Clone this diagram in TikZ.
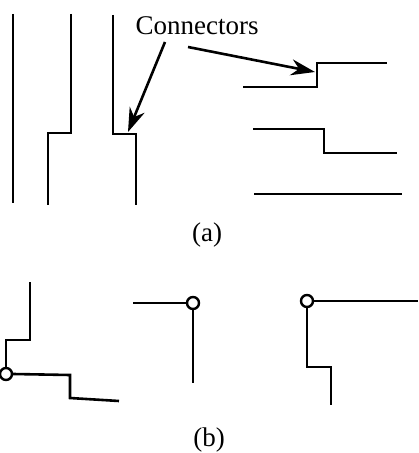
\documentclass[tikz,border=0pt]{standalone}
\usepackage{fontspec}
\setmainfont{Liberation Serif}
\usetikzlibrary{arrows.meta}

\begin{document}
\begin{tikzpicture}[x=0.5pt, y=-0.5pt,
    wire/.style={line width=1.3pt, line join=miter},
    pin/.style={circle, draw, fill=white, line width=1.2pt, inner sep=0pt, minimum size=6pt},
    pointer/.style={line width=1.3pt, -{Stealth[length=12pt, width=8pt]}},
    lbl/.style={font=\fontsize{13.5}{16}\selectfont, inner sep=0pt}]
  \useasboundingbox (0, 0) rectangle (418, 453);
  % (a) vertical wires
  \draw[wire] (13, 14) -- (13, 203);
  \draw[wire] (71, 14) -- (71, 133) -- (48, 133) -- (48, 205);
  \draw[wire] (113, 15) -- (113, 134) -- (136, 134) -- (136, 205);
  \coordinate (jogv) at (128, 132);
  % (a) horizontal wires
  \draw[wire] (243, 87) -- (317, 87) -- (317, 63) -- (387, 63);
  \coordinate (jogh) at (315, 72);
  \draw[wire] (253, 129) -- (324, 129) -- (324, 153) -- (397, 153);
  \draw[wire] (254, 194) -- (402, 194);
  % label and pointers
  \node[lbl] (conn) at (197, 26) {Connectors};
  \coordinate (tailv) at (165, 42);
  \coordinate (tailh) at (188, 47);
  \draw[pointer] (tailv) -- (jogv);
  \draw[pointer] (tailh) -- (jogh);
  \node[lbl] (capa) at (207, 235) {(a)};
  % (b) joined wires
  \node[pin] (pinl) at (6, 374) {};
  \draw[wire] (30, 282) -- (30, 340) -- (6, 340) -- (pinl.north);
  \draw[wire] (pinl.east) -- (70, 375) -- (70, 398) -- (119, 401);
  \node[pin] (pinm) at (193, 303) {};
  \draw[wire] (133, 303) -- (pinm.west);
  \draw[wire] (pinm.south) -- (193, 383);
  \node[pin] (pinr) at (307, 301) {};
  \draw[wire] (pinr.east) -- (418, 301);
  \draw[wire] (pinr.south) -- (307, 367) -- (331, 367) -- (331, 405);
  \node[lbl] (capb) at (209, 440) {(b)};
\end{tikzpicture}
\end{document}
